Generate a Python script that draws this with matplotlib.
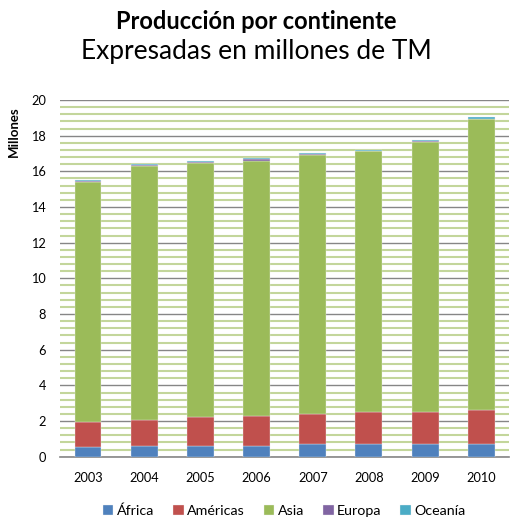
import matplotlib
matplotlib.use("Agg")
import matplotlib.pyplot as plt
import numpy as np
from matplotlib.ticker import MultipleLocator

plt.rcParams['font.family'] = ['Lato', 'DejaVu Sans']

years = ['2003', '2004', '2005', '2006', '2007', '2008', '2009', '2010']
series_names = ['África', 'Américas', 'Asia', 'Europa', 'Oceanía']
africa = [0.53, 0.62, 0.62, 0.62, 0.70, 0.70, 0.70, 0.70]
americas = [1.44, 1.43, 1.63, 1.68, 1.72, 1.80, 1.80, 1.94]
asia = [13.42, 14.25, 14.20, 14.29, 14.48, 14.63, 15.17, 16.28]
europa = [0.06, 0.03, 0.05, 0.10, 0.06, 0.03, 0.03, 0.03]
oceania = [0.06, 0.06, 0.07, 0.07, 0.06, 0.05, 0.07, 0.07]
colors = ['#4F81BD', '#C0504D', '#9BBB59', '#8064A2', '#4BACC6']

fig = plt.figure(figsize=(5.12, 5.20), dpi=100)
ax = fig.add_axes([0.117, 0.1217, 0.878, 0.686])

x = np.arange(len(years))
bottom = np.zeros(len(years))
for name, vals, c in zip(series_names, [africa, americas, asia, europa, oceania], colors):
    ax.bar(x, vals, width=0.48, bottom=bottom, color=c, label=name,
           edgecolor='#f0f0f0', linewidth=0.25, zorder=3)
    bottom += np.array(vals)

ax.set_xlim(-0.5, len(years) - 0.5)
ax.set_ylim(0, 20)
ax.yaxis.set_major_locator(MultipleLocator(2))
ax.yaxis.set_minor_locator(MultipleLocator(0.4))
ax.grid(which='minor', axis='y', color='#C3D69B', linewidth=1.5, zorder=0)
ax.grid(which='major', axis='y', color='#868686', linewidth=1.0, zorder=1)
ax.set_xticks(x)
ax.set_xticklabels(years)
ax.tick_params(axis='both', which='both', length=0, labelsize=9.2, colors='black')
ax.tick_params(axis='y', pad=10)
ax.tick_params(axis='x', pad=11)
for s in ['left', 'right', 'top']:
    ax.spines[s].set_visible(False)
ax.spines['bottom'].set_color('#868686')
ax.spines['bottom'].set_linewidth(1.2)

ax.set_ylabel('Millones', fontsize=9.5, fontweight='bold')
ax.yaxis.set_label_coords(-0.09, 0.91)

fig.text(0.5, 0.958, 'Producción por continente', ha='center', va='center',
         fontsize=17, fontweight='bold')
fig.text(0.5, 0.9, 'Expresadas en millones de TM', ha='center', va='center',
         fontsize=19)

leg = fig.legend(loc='center', bbox_to_anchor=(0.555, 0.018), ncol=5, frameon=False,
                 fontsize=10.3, handlelength=0.75, handleheight=0.75, handletextpad=0.25,
                 columnspacing=1.3)

fig.savefig('out.png', dpi=100)
